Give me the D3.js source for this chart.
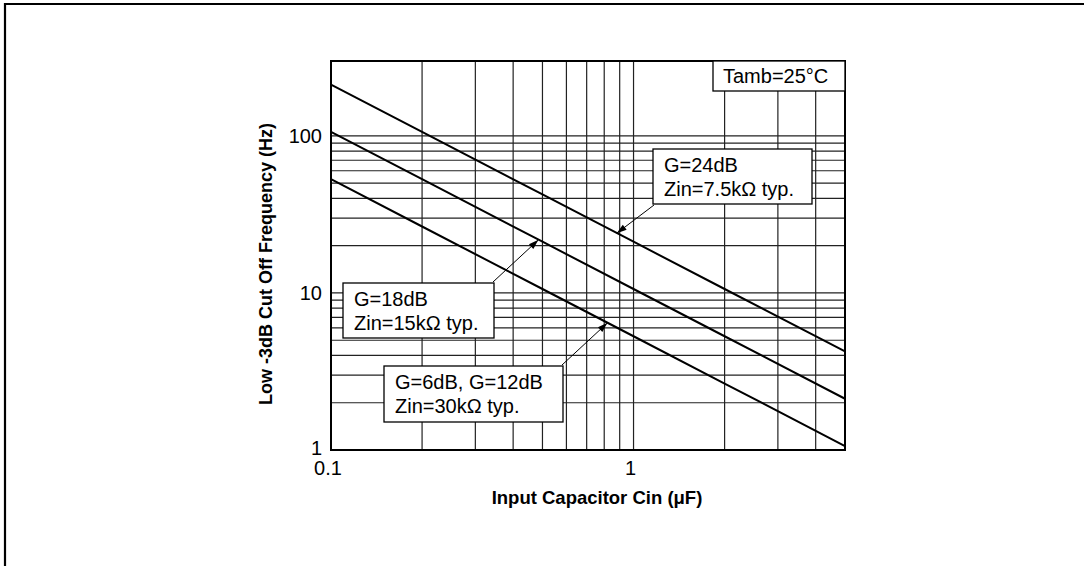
<!DOCTYPE html>
<html><head><meta charset="utf-8">
<script src="https://cdn.jsdelivr.net/npm/d3@7"></script>
<style>
html,body{margin:0;padding:0;background:#fff;}
svg{display:block;font-family:"Liberation Sans",Arial,Helvetica,sans-serif;}
</style></head>
<body>
<svg id="chart" width="1084" height="566"></svg>
<script>
// ---- data ----
const capacitance = [0.1, 0.2, 0.5, 1, 2, 5];            // µF
const freqG24 = [212, 106, 42.4, 21.2, 10.6, 4.24];      // Hz, Zin=7.5k
const freqG18 = [106, 53, 21.2, 10.6, 5.3, 2.12];        // Hz, Zin=15k
const freqG6  = [53, 26.5, 10.6, 5.3, 2.65, 1.06];       // Hz, Zin=30k
const xTickLabels = ["0.1", "1"];
const xTickValues = [0.1, 1];
const yTickLabels = ["1", "10", "100"];
const yTickValues = [1, 10, 100];
const xGrid = [0.2,0.3,0.4,0.5,0.6,0.7,0.8,0.9,1,2,3,4];
const yGrid = [2,3,4,5,6,7,8,9,10,20,30,40,50,60,70,80,90,100];
const labelG24 = ["G=24dB", "Zin=7.5kΩ typ."];
const labelG18 = ["G=18dB", "Zin=15kΩ typ."];
const labelG6  = ["G=6dB, G=12dB", "Zin=30kΩ typ."];
const arrowTargets = [[0.88, 24.0], [0.485, 21.8], [0.82, 6.45]]; // [Cin, f] points on curves
const tempLabel = "Tamb=25°C";
const xTitle = "Input Capacitor Cin (μF)";
const yTitle = "Low -3dB Cut Off Frequency (Hz)";

// ---- layout ----
const svg = d3.select("#chart");
const L = 331, R = 845, T = 61, B = 450;
const x = d3.scaleLog().domain([0.1, 5]).range([L, R]);
const y = d3.scaleLog().domain([1, 300]).range([B, T]);

// outer frame
svg.append("path").attr("d", `M5,566 L5,4 L1084,4`).attr("fill","none")
  .attr("stroke","#000").attr("stroke-width",2.2);

// grid
const grid = svg.append("g").attr("stroke","#222").attr("stroke-width",1.2);
grid.selectAll("line.v").data(xGrid).join("line")
  .attr("x1", d=>x(d)).attr("x2", d=>x(d)).attr("y1", T).attr("y2", B);
grid.selectAll("line.h").data(yGrid).join("line")
  .attr("y1", d=>y(d)).attr("y2", d=>y(d)).attr("x1", L).attr("x2", R);

// curves
const line = d3.line().x(d=>x(d[0])).y(d=>y(d[1]));
[freqG24, freqG18, freqG6].forEach(s=>{
  svg.append("path").datum(capacitance.map((c,i)=>[c, s[i]]))
    .attr("d", line).attr("fill","none").attr("stroke","#000").attr("stroke-width",2);
});

// plot border
svg.append("rect").attr("x",L).attr("y",T).attr("width",R-L).attr("height",B-T)
  .attr("fill","none").attr("stroke","#000").attr("stroke-width",2);

// axes tick labels
svg.append("g").selectAll("text").data(yTickValues).join("text")
  .attr("x", L-9).attr("y", d=>y(d)+(d===1?5:7)).attr("text-anchor","end")
  .attr("font-size",20).text((d,i)=>yTickLabels[i]);
svg.append("g").selectAll("text").data(xTickValues).join("text")
  .attr("x", d=>x(d)-3).attr("y", B+25).attr("text-anchor","middle")
  .attr("font-size",20).text((d,i)=>xTickLabels[i]);

// axis titles
svg.append("text").attr("x", 597).attr("y", 504).attr("text-anchor","middle")
  .attr("font-size",18.5).attr("font-weight","bold").text(xTitle);
svg.append("text").attr("transform","translate(272,264) rotate(-90)")
  .attr("text-anchor","middle").attr("font-size",18).attr("font-weight","bold").text(yTitle);

// temp box
svg.append("rect").attr("x",713).attr("y",T).attr("width",R-713).attr("height",30)
  .attr("fill","#fff").attr("stroke","#000").attr("stroke-width",1.3);
svg.append("text").attr("x",723).attr("y",83).attr("font-size",20).text(tempLabel);

// annotation boxes
const boxes = [
  {x:653, y:149, w:159, h:55, lines:labelG24, from:[654,205]},
  {x:343, y:283, w:151, h:55, lines:labelG18, from:[493,282]},
  {x:384, y:366, w:179, h:56, lines:labelG6,  from:[562,365]}
];
boxes.forEach((b,i)=>{
  const [tx,ty] = [x(arrowTargets[i][0]), y(arrowTargets[i][1])];
  const [fx,fy] = b.from;
  svg.append("line").attr("x1",fx).attr("y1",fy).attr("x2",tx).attr("y2",ty)
    .attr("stroke","#000").attr("stroke-width",1);
  const ang = Math.atan2(ty-fy, tx-fx), len=10, wid=3.2;
  const bx = tx - len*Math.cos(ang), by = ty - len*Math.sin(ang);
  const px = -Math.sin(ang)*wid, py = Math.cos(ang)*wid;
  svg.append("path").attr("d",`M${tx},${ty}L${bx+px},${by+py}L${bx-px},${by-py}Z`).attr("fill","#000");
  svg.append("rect").attr("x",b.x).attr("y",b.y).attr("width",b.w).attr("height",b.h)
    .attr("fill","#fff").attr("stroke","#000").attr("stroke-width",1.3);
  b.lines.forEach((t,j)=>{
    svg.append("text").attr("x",b.x+11).attr("y",b.y+23+j*24).attr("font-size",20).text(t);
  });
});
</script>
</body></html>
